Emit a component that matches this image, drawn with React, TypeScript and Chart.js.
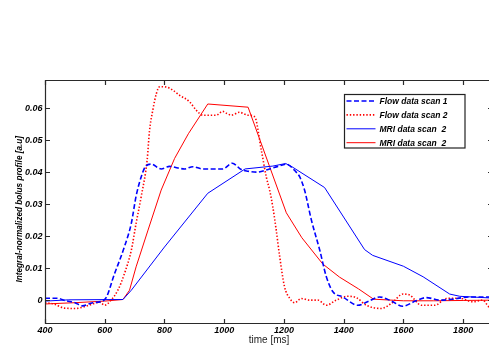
import React, { useEffect, useRef } from "react";
import { Chart, registerables } from "chart.js";

Chart.register(...registerables);

// ---- data (time in ms, value in a.u.) ----
const flow1Time = [400, 440, 470, 500, 525, 560, 600, 633, 666, 689, 705, 722, 736, 756, 789, 817, 845, 867, 895, 928, 960, 995, 1027, 1057, 1080, 1108, 1152, 1180, 1208, 1241, 1253, 1269, 1292, 1320, 1342, 1364, 1397, 1447, 1480, 1520, 1560, 1598, 1640, 1677, 1722, 1766, 1822, 1886, 1900];
const flow1Value = [0.0006, 0.0006, -0.0002, -0.0008, -0.0018, -0.0008, 0.0002, 0.0083, 0.0167, 0.024, 0.0325, 0.0385, 0.0417, 0.0425, 0.041, 0.0418, 0.0413, 0.041, 0.0417, 0.041, 0.041, 0.041, 0.0428, 0.0408, 0.0403, 0.04, 0.041, 0.0418, 0.0425, 0.04, 0.0385, 0.0344, 0.025, 0.0156, 0.0073, 0.0026, 0.001, -0.0016, -0.0005, 0.001, -0.0003, -0.0019, -0.0003, 0.0008, 0.0, 0.0003, 0.001, 0.001, 0.001];

const flow2Time = [400, 430, 465, 504, 526, 566, 582, 600, 621, 644, 666, 689, 705, 722, 742, 750, 761, 773, 784, 806, 828, 851, 884, 906, 929, 973, 995, 1010, 1024, 1051, 1079, 1102, 1124, 1141, 1152, 1163, 1174, 1186, 1202, 1219, 1236, 1258, 1286, 1314, 1342, 1375, 1414, 1442, 1476, 1526, 1560, 1599, 1621, 1660, 1705, 1744, 1789, 1832, 1866, 1886, 1900];
const flow2Value = [-0.0008, -0.0012, -0.0025, -0.0026, -0.0022, -0.001, -0.0006, -0.0016, 0.0, 0.0031, 0.0083, 0.0156, 0.024, 0.0323, 0.0438, 0.053, 0.0594, 0.0646, 0.0667, 0.0666, 0.0656, 0.064, 0.062, 0.0594, 0.0578, 0.0578, 0.059, 0.0583, 0.0578, 0.0587, 0.0578, 0.0573, 0.047, 0.0385, 0.0344, 0.029, 0.022, 0.0135, 0.0042, 0.0006, -0.0008, 0.0005, 0.0, 0.0, -0.0016, 0.0, 0.0012, 0.0008, -0.0016, -0.0026, -0.001, 0.0019, 0.0016, -0.0016, -0.0016, 0.0005, 0.0006, -0.0005, 0.0, -0.0021, -0.0025];

const mriBlueTime = [400, 480, 661, 689, 800, 945, 1070, 1163, 1206, 1230, 1336, 1470, 1497, 1600, 1666, 1755, 1789, 1886, 1900];
const mriBlueValue = [-0.0003, 0.0001, 0.0002, 0.0031, 0.0166, 0.0334, 0.041, 0.0419, 0.0427, 0.0415, 0.0352, 0.0158, 0.014, 0.0106, 0.0073, 0.0019, 0.0012, 0.0007, 0.0007];

const mriRedTime = [400, 500, 600, 661, 683, 705, 745, 789, 834, 880, 945, 1080, 1208, 1260, 1330, 1386, 1450, 1500, 1600, 1700, 1800, 1900];
const mriRedValue = [-0.0012, -0.0008, -0.0003, 0.0002, 0.0031, 0.0104, 0.0219, 0.0344, 0.0443, 0.052, 0.0613, 0.0603, 0.0273, 0.0195, 0.0113, 0.0072, 0.0035, 0.0003, -0.0002, -0.0002, -0.0001, 0.0];

const seriesLabels = ["Flow data scan 1", "Flow data scan 2", "MRI data scan  2", "MRI data scan  2"];
const xTickValues = [400, 600, 800, 1000, 1200, 1400, 1600, 1800];
const yTickValues = [0, 0.01, 0.02, 0.03, 0.04, 0.05, 0.06];
const xRange = [400, 1900];
const yRange = [-0.0073, 0.0688];
const xTitle = "time [ms]";
const yTitle = "Integral-normalized bolus profile [a.u]";

const toPoints = (t: number[], v: number[]) => t.map((x, i) => ({ x, y: v[i] }));

const FONT = "'Liberation Sans', Arial, Helvetica, sans-serif";

const framePlugin = {
  id: "frame",
  afterDatasetsDraw(chart: any) {
    const { ctx, chartArea: a, scales } = chart;
    ctx.save();
    ctx.strokeStyle = "#2a2a2a";
    ctx.lineWidth = 1.2;
    const L = Math.round(a.left) + 0.5;
    const T = Math.round(a.top) + 0.5;
    const B = Math.round(a.bottom) - 0.5;
    const R = Math.round(a.right) - 0.5;
    ctx.beginPath();
    ctx.moveTo(L, T); ctx.lineTo(R, T); ctx.lineTo(R, B); ctx.lineTo(L, B); ctx.closePath();
    ctx.stroke();
    const tl = 4.5;
    ctx.beginPath();
    scales.x.ticks.forEach((t: any) => {
      const px = Math.round(scales.x.getPixelForValue(t.value)) + 0.5;
      ctx.moveTo(px, B); ctx.lineTo(px, B - tl);
      ctx.moveTo(px, T); ctx.lineTo(px, T + tl);
    });
    scales.y.ticks.forEach((t: any) => {
      const py = Math.round(scales.y.getPixelForValue(t.value)) + 0.5;
      ctx.moveTo(L, py); ctx.lineTo(L + tl, py);
      ctx.moveTo(R, py); ctx.lineTo(R - tl, py);
    });
    ctx.stroke();

    // axis titles
    ctx.fillStyle = "#222";
    ctx.font = `10px ${FONT}`;
    ctx.textAlign = "center";
    ctx.textBaseline = "middle";
    ctx.fillText(xTitle, (a.left + a.right) / 2, 340.5);
    ctx.save();
    ctx.translate(20, (a.top + a.bottom) / 2 + 7.5);
    ctx.rotate(-Math.PI / 2);
    ctx.fillStyle = "#000";
    ctx.font = `italic bold 8.2px ${FONT}`;
    ctx.fillText(yTitle, 0, 0);
    ctx.restore();

    // legend
    const bw = 120.5, bh = 53.5;
    const bx = Math.round(a.right - 29 - bw) + 0.5;
    const by = Math.round(a.top + 14) + 0.5;
    ctx.fillStyle = "#fff";
    ctx.fillRect(bx, by, bw, bh);
    ctx.strokeStyle = "#222";
    ctx.lineWidth = 1.2;
    ctx.strokeRect(bx, by, bw, bh);
    chart.data.datasets.forEach((ds: any, i: number) => {
      const yy = by + 6.5 + i * 13.9;
      ctx.save();
      ctx.strokeStyle = ds.borderColor;
      ctx.lineWidth = ds.borderWidth;
      ctx.setLineDash(ds.borderDash || []);
      ctx.beginPath();
      ctx.moveTo(bx + 2, yy); ctx.lineTo(bx + 31, yy);
      ctx.stroke();
      ctx.restore();
      ctx.fillStyle = "#000";
      ctx.font = `italic bold 8.5px ${FONT}`;
      ctx.textAlign = "left";
      ctx.textBaseline = "middle";
      ctx.fillText(ds.label, bx + 35, yy + 0.5);
    });
    ctx.restore();
  },
};

export default function App() {
  const ref = useRef<HTMLCanvasElement | null>(null);
  useEffect(() => {
    if (!ref.current) return;
    const tickFont = { family: FONT, size: 9, style: "italic" as const, weight: "bold" as const };
    const chart = new Chart(ref.current, {
      type: "line",
      data: {
        datasets: [
          { label: seriesLabels[0], data: toPoints(flow1Time, flow1Value), borderColor: "#0000ff", borderWidth: 1.6, borderDash: [5, 2.5], pointRadius: 0, tension: 0.3, cubicInterpolationMode: "monotone", fill: false },
          { label: seriesLabels[1], data: toPoints(flow2Time, flow2Value), borderColor: "#ff0000", borderWidth: 1.6, borderDash: [1.4, 1.9], pointRadius: 0, tension: 0.3, cubicInterpolationMode: "monotone", fill: false },
          { label: seriesLabels[2], data: toPoints(mriBlueTime, mriBlueValue), borderColor: "#0000ff", borderWidth: 1, pointRadius: 0, tension: 0, fill: false },
          { label: seriesLabels[3], data: toPoints(mriRedTime, mriRedValue), borderColor: "#ff0000", borderWidth: 1, pointRadius: 0, tension: 0, fill: false },
        ],
      },
      options: {
        animation: false,
        responsive: false,
        devicePixelRatio: 1,
        layout: { padding: { left: 0, top: 80, right: 7, bottom: 0 } },
        plugins: { legend: { display: false }, title: { display: false }, tooltip: { enabled: false } },
        scales: {
          x: {
            type: "linear",
            min: xRange[0],
            max: xRange[1],
            grid: { display: false, drawTicks: false },
            border: { display: false },
            afterBuildTicks: (s: any) => { s.ticks = xTickValues.map((v) => ({ value: v })); },
            afterFit: (s: any) => { s.height = 21.5; },
            ticks: { font: tickFont, color: "#000", padding: 2, autoSkip: false, maxRotation: 0, callback: (v: any) => String(v) },
          },
          y: {
            type: "linear",
            min: yRange[0],
            max: yRange[1],
            grid: { display: false, drawTicks: false },
            border: { display: false },
            afterBuildTicks: (s: any) => { s.ticks = yTickValues.map((v) => ({ value: v })); },
            afterFit: (s: any) => { s.width = 45; },
            ticks: { font: tickFont, color: "#000", padding: 2.5, autoSkip: false, callback: (v: any) => (Math.abs(Number(v)) < 1e-9 ? "0" : Number(v).toFixed(2)) },
          },
        },
      },
      plugins: [framePlugin],
    } as any);
    return () => chart.destroy();
  }, []);
  return (
    <div style={{ position: "fixed", left: 0, top: 0, width: 489, height: 345, overflow: "hidden", background: "#fff" }}>
      <canvas ref={ref} width={500} height={345} style={{ display: "block", width: 500, height: 345 }} />
    </div>
  );
}
